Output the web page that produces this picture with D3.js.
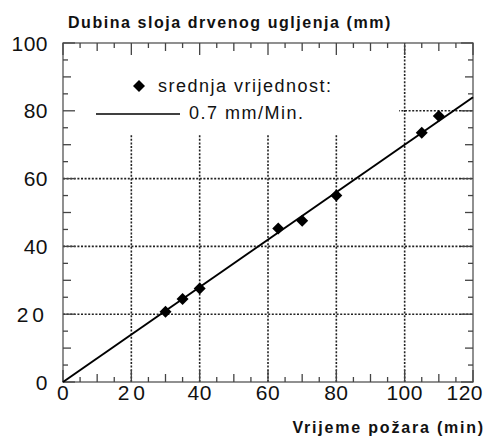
<!DOCTYPE html>
<html><head><meta charset="utf-8">
<script src="https://cdn.jsdelivr.net/npm/d3@7"></script>
<style>body{margin:0;background:#fff}svg{display:block}text{font-family:"Liberation Sans",Arial,sans-serif;fill:#111}</style>
</head><body>
<script>
const timeMin = [30, 35, 40, 63, 70, 80, 105, 110];
const depthMm = [20.7, 24.5, 27.6, 45.3, 47.6, 55.0, 73.5, 78.5];
const fitX = [0, 120];
const fitY = [0, 84];
const xTicks = [0, 20, 40, 60, 80, 100, 120];
const yTicks = [0, 20, 40, 60, 80, 100];
const gridX = [20, 40, 60, 80, 100];
const gridY = [20, 40, 60, 80];
const yTitle = "Dubina sloja drvenog ugljenja (mm)";
const xTitle = "Vrijeme požara (min)";
const legendPoints = "srednja vrijednost:";
const legendLine = "0.7 mm/Min.";

const W = 491, H = 441;
const svg = d3.select("body").append("svg").attr("width", W).attr("height", H);
const x = d3.scaleLinear().domain([0, 120]).range([63, 473]);
const y = d3.scaleLinear().domain([0, 100]).range([382, 43]);

// grid
const g = svg.append("g");
g.selectAll(".gx").data(gridX).join("line")
  .attr("x1", d => x(d)).attr("x2", d => x(d)).attr("y1", y(0)).attr("y2", y(100))
  .attr("stroke", "#222").attr("stroke-width", 1.6).attr("stroke-dasharray", "2,1.6");
g.selectAll(".gy").data(gridY).join("line")
  .attr("x1", x(0)).attr("x2", x(120)).attr("y1", d => y(d)).attr("y2", d => y(d))
  .attr("stroke", "#222").attr("stroke-width", 1.6).attr("stroke-dasharray", "2,1.6");

// legend background box
svg.append("rect").attr("x", x(0)).attr("y", y(100)).attr("width", 336).attr("height", 92).attr("fill", "#fff");

// frame
svg.append("rect").attr("x", x(0)).attr("y", y(100)).attr("width", x(120) - x(0)).attr("height", y(0) - y(100))
  .attr("fill", "none").attr("stroke", "#555").attr("stroke-width", 1.3);

// ticks (inward, all sides)
const minor = d3.range(0, 121, 5);
const minorY = d3.range(0, 101, 5);
const tlen = v => (v % 20 === 0 ? 12 : (v % 10 === 0 ? 8 : 5));
const tk = svg.append("g").attr("stroke", "#444").attr("stroke-width", 1.3);
minor.forEach(v => {
  tk.append("line").attr("x1", x(v)).attr("x2", x(v)).attr("y1", y(0)).attr("y2", y(0) - tlen(v));
  tk.append("line").attr("x1", x(v)).attr("x2", x(v)).attr("y1", y(100)).attr("y2", y(100) + tlen(v));
});
minorY.forEach(v => {
  tk.append("line").attr("y1", y(v)).attr("y2", y(v)).attr("x1", x(0)).attr("x2", x(0) + tlen(v));
  tk.append("line").attr("y1", y(v)).attr("y2", y(v)).attr("x1", x(120)).attr("x2", x(120) - tlen(v));
});

// tick labels
svg.selectAll(".xl").data(xTicks).join("text")
  .attr("x", d => d === 120 ? 483 : x(d) + (d === 20 ? 2 : 0)).attr("y", 400)
  .attr("text-anchor", d => d === 120 ? "end" : "middle")
  .attr("font-size", 21).style("letter-spacing", d => d === 20 ? "4px" : "0.5px").text(d => d);
svg.selectAll(".yl").data(yTicks).join("text")
  .attr("x", 48).attr("y", d => y(d) + 7.5).attr("text-anchor", "end")
  .attr("font-size", 21).style("letter-spacing", d => d === 20 ? "4px" : "0.5px").text(d => d);

// titles
svg.append("text").attr("x", 68).attr("y", 28).attr("font-size", 16).attr("font-weight", "bold")
  .style("letter-spacing", "1.55px").text(yTitle);
svg.append("text").attr("x", 485).attr("y", 433).attr("text-anchor", "end").attr("font-size", 16).attr("font-weight", "bold")
  .style("letter-spacing", "1.8px").text(xTitle);

// fit line
svg.append("line").attr("x1", x(fitX[0])).attr("y1", y(fitY[0])).attr("x2", x(fitX[1])).attr("y2", y(fitY[1]))
  .attr("stroke", "#000").attr("stroke-width", 2);

// points
const diamond = "M0,-6L6,0L0,6L-6,0Z";
svg.selectAll(".pt").data(timeMin.map((t, i) => [t, depthMm[i]])).join("path")
  .attr("d", diamond).attr("transform", d => `translate(${x(d[0])},${y(d[1])})`).attr("fill", "#000");

// legend
svg.append("path").attr("d", diamond).attr("transform", "translate(139,86)").attr("fill", "#000");
svg.append("text").attr("x", 158).attr("y", 92).attr("font-size", 18).style("letter-spacing", "1.5px").text(legendPoints);
svg.append("line").attr("x1", 96).attr("x2", 180).attr("y1", 114).attr("y2", 114).attr("stroke", "#000").attr("stroke-width", 1.6);
svg.append("text").attr("x", 189).attr("y", 119).attr("font-size", 18).style("letter-spacing", "1.5px").text(legendLine);
</script>
</body></html>
